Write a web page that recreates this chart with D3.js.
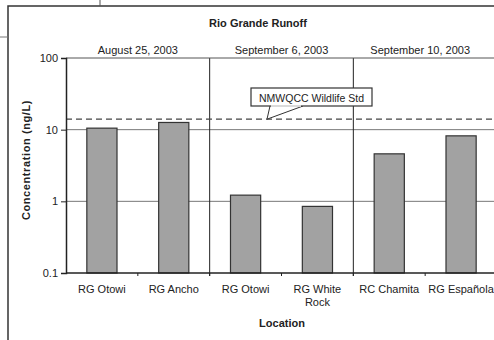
<!DOCTYPE html>
<html><head><meta charset="utf-8">
<script src="https://cdn.jsdelivr.net/npm/d3@7"></script>
<style>body{margin:0;background:#fff}svg{display:block;font-family:"Liberation Sans",Arial,sans-serif}</style>
</head><body><svg id="c" width="494" height="340"></svg>
<script>
const categories = ["RG Otowi","RG Ancho","RG Otowi","RG White|Rock","RC Chamita","RG Española"];
const values = [10.5, 12.6, 1.22, 0.85, 4.6, 8.2];
const groups = ["August 25, 2003","September 6, 2003","September 10, 2003"];
const groupSize = [2,2,2];
const yTicks = [0.1, 1, 10, 100];
const stdValue = 14;
const stdLabel = "NMWQCC Wildlife Std";
const title = "Rio Grande Runoff";
const yTitle = "Concentration (ng/L)";
const xTitle = "Location";

const svg = d3.select("#c");
const L = 66, R = 497, T = 58, B = 273;
const x = d3.scaleBand().domain(d3.range(categories.length)).range([L, R]).paddingInner(0.58).paddingOuter(0.29);
const y = d3.scaleLog().domain([0.1, 100]).range([B, T]);
const step = x.step();

// outer frame
svg.append("path").attr("d","M8,340V6H494").attr("fill","none").attr("stroke","#333").attr("stroke-width",1.5);
svg.append("line").attr("x1",100).attr("x2",100).attr("y1",0).attr("y2",6).attr("stroke","#555");
svg.append("line").attr("x1",0).attr("x2",8).attr("y1",37).attr("y2",37).attr("stroke","#777");

// gridlines
svg.append("g").selectAll("line").data([1,10]).join("line")
  .attr("x1",L).attr("x2",494).attr("y1",d=>y(d)).attr("y2",d=>y(d))
  .attr("stroke","#777").attr("stroke-width",1);

// bars
svg.append("g").selectAll("rect").data(values).join("rect")
  .attr("x",(d,i)=>x(i)).attr("width",x.bandwidth())
  .attr("y",d=>y(d)).attr("height",d=>B-y(d))
  .attr("fill","#a2a2a2").attr("stroke","#333").attr("stroke-width",1.2);

// group separators and labels
let acc = 0;
groups.forEach((g,gi)=>{
  const x0 = L + acc*step;
  const x1 = L + (acc+groupSize[gi])*step;
  if (gi>0) svg.append("line").attr("x1",x0).attr("x2",x0).attr("y1",T).attr("y2",B+3).attr("stroke","#222").attr("stroke-width",1);
  svg.append("text").attr("x",(x0+x1)/2 - (gi==2?5:0)).attr("y",T-4).attr("text-anchor","middle")
    .attr("font-size",11).attr("fill","#222").text(g);
  acc += groupSize[gi];
});

// top border
svg.append("line").attr("x1",L).attr("x2",494).attr("y1",T).attr("y2",T).attr("stroke","#555").attr("stroke-width",1);

// std dashed line
svg.append("line").attr("x1",L).attr("x2",494).attr("y1",y(stdValue)).attr("y2",y(stdValue))
  .attr("stroke","#444").attr("stroke-width",1.3).attr("stroke-dasharray","6,4");

// y axis
const yAxis = d3.axisLeft(y).tickValues(yTicks).tickFormat(d3.format("~g")).tickSize(5).tickPadding(3);
const ga = svg.append("g").attr("transform",`translate(${L},0)`).call(yAxis);
ga.select(".domain").attr("stroke","#222").attr("stroke-width",1.5);
ga.selectAll(".tick line").attr("stroke","#222");
ga.selectAll("text").attr("font-size",11).attr("fill","#222").attr("font-family","Liberation Sans, Arial, sans-serif");

// x axis line & ticks at boundaries
svg.append("line").attr("x1",L).attr("x2",494).attr("y1",B).attr("y2",B).attr("stroke","#222").attr("stroke-width",1.3);
svg.append("g").selectAll("line").data(d3.range(1,categories.length)).join("line")
  .attr("x1",i=>L+i*step).attr("x2",i=>L+i*step).attr("y1",B).attr("y2",B+3).attr("stroke","#222");

// x labels
svg.append("g").selectAll("text").data(categories).join("text")
  .attr("x",(d,i)=>x(i)+x.bandwidth()/2).attr("y",293).attr("text-anchor","middle")
  .attr("font-size",11).attr("fill","#222")
  .each(function(d){
    const parts = d.split("|");
    d3.select(this).selectAll("tspan").data(parts).join("tspan")
      .attr("x",d3.select(this).attr("x")).attr("dy",(p,j)=>j?13:0).text(p=>p);
  });

// titles
svg.append("text").attr("x",258).attr("y",27).attr("text-anchor","middle").attr("font-size",11).attr("font-weight","bold").attr("fill","#222").text(title);
svg.append("text").attr("x",282).attr("y",327).attr("text-anchor","middle").attr("font-size",11).attr("font-weight","bold").attr("fill","#222").text(xTitle);
svg.append("text").attr("transform","translate(30,160) rotate(-90)").attr("text-anchor","middle").attr("font-size",11).attr("font-weight","bold").attr("letter-spacing",0.6).attr("fill","#222").text(yTitle);

// callout
const ty = y(stdValue);
svg.append("path").attr("d",`M270,106 L267,${ty} L303,106`).attr("fill","#fff").attr("stroke","#333").attr("stroke-width",1);
svg.append("rect").attr("x",251).attr("y",88).attr("width",121).attr("height",18).attr("fill","#fff").attr("stroke","#333").attr("stroke-width",1.2);
svg.append("path").attr("d",`M271,106 L301,106`).attr("stroke","#fff").attr("stroke-width",1.4);
svg.append("text").attr("x",311.5).attr("y",101.5).attr("text-anchor","middle").attr("font-size",10.5).attr("fill","#222").text(stdLabel);
</script></body></html>
